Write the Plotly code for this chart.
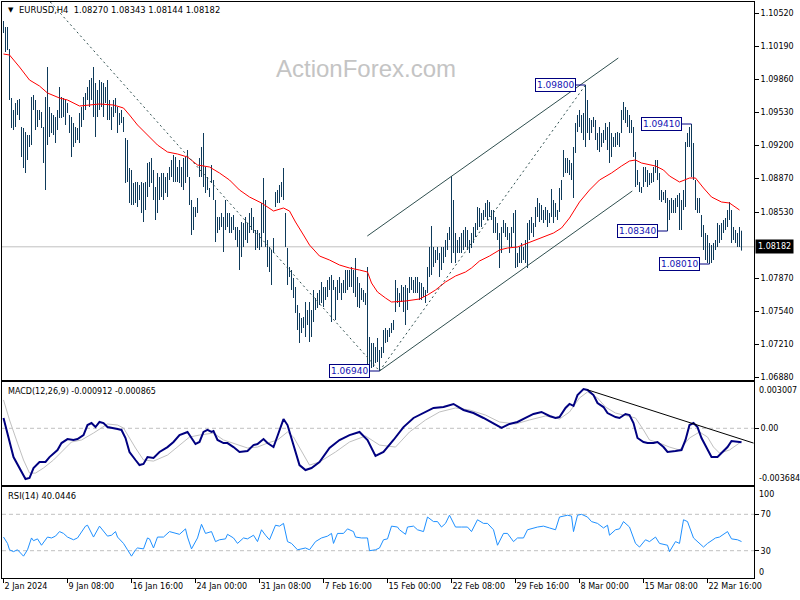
import plotly.graph_objects as go

# ---------------- DATA ----------------
highs = [
1.1044,1.1038,1.1038,1.1016,1.0967,1.0955,1.0962,1.0965,1.0966,1.0938,
1.0937,1.0933,1.0930,1.0930,1.0968,1.0970,1.0965,1.0955,1.0955,1.0953,
1.0938,1.0968,1.0998,1.0958,1.0952,1.0950,1.0948,1.0955,1.0978,1.0968,
1.0967,1.0965,1.0962,1.0950,1.0948,1.0942,1.0938,1.0937,1.0952,1.0958,
1.0968,1.0972,1.0978,1.0985,1.0987,1.0998,1.0982,1.0975,1.0985,1.0983,
1.0982,1.0978,1.0985,1.0965,1.0958,1.0965,1.0967,1.0958,1.0952,1.0955,
1.0948,1.0927,1.0925,1.0897,1.0895,1.0882,1.0883,1.0883,1.0880,1.0883,
1.0882,1.0883,1.0902,1.0903,1.0907,1.0895,1.0878,1.0892,1.0888,1.0892,
1.0892,1.0888,1.0892,1.0898,1.0905,1.0910,1.0908,1.0898,1.0905,1.0898,
1.0907,1.0908,1.0915,1.0888,1.0865,1.0858,1.0858,1.0867,1.0907,1.0918,
1.0932,1.0898,1.0888,1.0877,1.0900,1.0885,1.0865,1.0848,1.0848,1.0852,
1.0848,1.0865,1.0852,1.0852,1.0848,1.0850,1.0838,1.0838,1.0835,1.0843,
1.0842,1.0848,1.0842,1.0852,1.0857,1.0848,1.0835,1.0835,1.0832,1.0862,
1.0887,1.0865,1.0825,1.0818,1.0815,1.0827,1.0873,1.0875,1.0880,1.0883,
1.0897,1.0852,1.0817,1.0798,1.0795,1.0787,1.0778,1.0760,1.0752,1.0747,
1.0748,1.0763,1.0755,1.0763,1.0755,1.0775,1.0767,1.0772,1.0775,1.0783,
1.0778,1.0778,1.0785,1.0788,1.0790,1.0785,1.0778,1.0785,1.0788,1.0782,
1.0785,1.0795,1.0795,1.0795,1.0798,1.0795,1.0807,1.0788,1.0782,1.0777,
1.0775,1.0772,1.0798,1.0728,1.0722,1.0722,1.0718,1.0727,1.0715,1.0718,
1.0735,1.0737,1.0735,1.0737,1.0742,1.0745,1.0785,1.0777,1.0772,1.0780,
1.0778,1.0780,1.0777,1.0788,1.0788,1.0785,1.0788,1.0788,1.0783,1.0782,
1.0778,1.0775,1.0798,1.0818,1.0839,1.0818,1.0815,1.0818,1.0812,1.0818,
1.0818,1.0825,1.0832,1.0838,1.0889,1.0865,1.0832,1.0825,1.0828,1.0832,
1.0835,1.0838,1.0835,1.0825,1.0832,1.0838,1.0842,1.0858,1.0857,1.0852,
1.0855,1.0862,1.0865,1.0863,1.0855,1.0855,1.0848,1.0842,1.0832,1.0838,
1.0845,1.0842,1.0838,1.0832,1.0838,1.0852,1.0855,1.0812,1.0818,1.0822,
1.0818,1.0825,1.0842,1.0845,1.0848,1.0842,1.0858,1.0867,1.0862,1.0860,
1.0855,1.0858,1.0855,1.0852,1.0876,1.0865,1.0862,1.0855,1.0877,1.0885,
1.0915,1.0907,1.0907,1.0905,1.0902,1.0918,1.0942,1.0950,1.0955,1.0950,
1.0952,1.0980,1.0965,1.0947,1.0945,1.0948,1.0945,1.0932,1.0938,1.0932,
1.0935,1.0942,1.0938,1.0943,1.0932,1.0928,1.0932,1.0933,1.0932,1.0955,
1.0963,1.0958,1.0955,1.0950,1.0945,1.0938,1.0913,1.0895,1.0883,1.0878,
1.0898,1.0898,1.0895,1.0892,1.0892,1.0898,1.0905,1.0905,1.0892,1.0875,
1.0873,1.0875,1.0867,1.0865,1.0867,1.0865,1.0867,1.0870,1.0872,1.0865,
1.0875,1.0923,1.0932,1.0938,1.0941,1.0922,1.0885,1.0867,1.0867,1.0850,
1.0840,1.0832,1.0830,1.0822,1.0820,1.0822,1.0825,1.0842,1.0840,1.0842,
1.0845,1.0847,1.0855,1.0863,1.0855,1.0838,1.0835,1.0832,1.0838,1.08343,
]
lows = [
1.1032,1.1013,1.1015,1.0965,1.0937,1.0935,1.0938,1.0950,1.0945,1.0908,
1.0897,1.0892,1.0905,1.0918,1.0920,1.0955,1.0935,1.0938,1.0945,1.0937,
1.0902,1.0875,1.0920,1.0928,1.0932,1.0930,1.0922,1.0935,1.0947,1.0947,
1.0948,1.0940,1.0952,1.0932,1.0908,1.0918,1.0922,1.0925,1.0922,1.0938,
1.0945,1.0955,1.0965,1.0958,1.0965,1.0948,1.0928,1.0948,1.0955,1.0958,
1.0948,1.0962,1.0945,1.0945,1.0935,1.0948,1.0952,1.0932,1.0940,1.0942,
1.0933,1.0882,1.0883,1.0862,1.0860,1.0860,1.0862,1.0858,1.0865,1.0852,
1.0843,1.0855,1.0868,1.0878,1.0882,1.0865,1.0845,1.0852,1.0865,1.0868,
1.0865,1.0872,1.0868,1.0885,1.0888,1.0883,1.0883,1.0883,1.0882,1.0878,
1.0875,1.0882,1.0888,1.0860,1.0830,1.0835,1.0848,1.0852,1.0888,1.0888,
1.0878,1.0872,1.0875,1.0868,1.0882,1.0865,1.0823,1.0832,1.0835,1.0838,
1.0813,1.0835,1.0838,1.0832,1.0832,1.0835,1.0825,1.0818,1.0795,1.0808,
1.0818,1.0825,1.0822,1.0832,1.0835,1.0832,1.0815,1.0817,1.0815,1.0818,
1.0832,1.0818,1.0798,1.0793,1.0780,1.0812,1.0858,1.0862,1.0862,1.0868,
1.0865,1.0818,1.0780,1.0788,1.0775,1.0767,1.0752,1.0735,1.0722,1.0732,
1.0737,1.0728,1.0740,1.0723,1.0728,1.0743,1.0755,1.0757,1.0760,1.0762,
1.0758,1.0765,1.0768,1.0775,1.0743,1.0775,1.0745,1.0765,1.0772,1.0765,
1.0772,1.0772,1.0775,1.0778,1.0778,1.0772,1.0768,1.0758,1.0757,1.0765,
1.0763,1.0760,1.0700,1.0700,1.0697,1.0698,1.0702,1.0703,1.0694,1.0707,
1.0712,1.0722,1.0723,1.0728,1.0732,1.0735,1.0753,1.0762,1.0758,1.0763,
1.0753,1.0740,1.0755,1.0772,1.0775,1.0772,1.0772,1.0772,1.0765,1.0765,
1.0768,1.0762,1.0772,1.0788,1.0790,1.0798,1.0802,1.0805,1.0788,1.0795,
1.0802,1.0808,1.0815,1.0825,1.0802,1.0812,1.0802,1.0812,1.0812,1.0812,
1.0815,1.0818,1.0815,1.0812,1.0817,1.0822,1.0828,1.0835,1.0838,1.0838,
1.0845,1.0848,1.0845,1.0848,1.0845,1.0832,1.0832,1.0825,1.0797,1.0812,
1.0832,1.0828,1.0825,1.0812,1.0818,1.0832,1.0797,1.0798,1.0802,1.0802,
1.0805,1.0802,1.0797,1.0825,1.0832,1.0828,1.0838,1.0848,1.0843,1.0845,
1.0842,1.0845,1.0838,1.0842,1.0848,1.0842,1.0848,1.0845,1.0853,1.0865,
1.0888,1.0892,1.0892,1.0890,1.0885,1.0867,1.0912,1.0933,1.0938,1.0932,
1.0925,1.0918,1.0932,1.0925,1.0932,1.0938,1.0925,1.0915,1.0913,1.0918,
1.0922,1.0925,1.0915,1.0902,1.0908,1.0918,1.0918,1.0920,1.0918,1.0932,
1.0945,1.0942,1.0938,1.0932,1.0932,1.0908,1.0878,1.0880,1.0873,1.0872,
1.0878,1.0883,1.0878,1.0880,1.0882,1.0883,1.0892,1.0885,1.0865,1.0863,
1.0865,1.0862,1.0834,1.0845,1.0852,1.0852,1.0852,1.0858,1.0835,1.0835,
1.0855,1.0858,1.0918,1.0918,1.0888,1.0885,1.0855,1.0852,1.0852,1.0828,
1.0815,1.0805,1.0802,1.0801,1.0802,1.0805,1.0815,1.0818,1.0822,1.0825,
1.0832,1.0835,1.0838,1.0845,1.0822,1.0825,1.0822,1.0818,1.0818,1.08144,
]
last_close = 1.08182

ma_idx = [0,3,8,13,18,22,28,32,38,42,48,55,60,63,67,72,77,82,87,92,97,103,108,113,118,123,129,
          135,140,143,146,150,153,158,163,168,173,178,182,184,187,191,194,201,208,212,216,221,226,
          231,234,238,243,248,252,257,261,266,271,275,279,283,288,293,298,304,309,313,316,319,326,
          330,333,338,343,346,350,354,359,363,368]
ma_val = [1.1011,1.1010,1.0998,1.0985,1.0979,1.0972,1.0967,1.0965,1.0959,1.0960,1.0961,1.0960,1.0957,
          1.0950,1.0940,1.0930,1.0920,1.0913,1.0911,1.0908,1.0900,1.0898,1.0892,1.0885,1.0875,1.0868,
          1.0862,1.0854,1.0857,1.0854,1.0843,1.0830,1.0820,1.0809,1.0805,1.0800,1.0797,1.0795,1.0793,
          1.0782,1.0773,1.0767,1.0763,1.0764,1.0766,1.0770,1.0775,1.0783,1.0789,1.0793,1.0797,1.0804,
          1.0809,1.0815,1.0817,1.0818,1.0821,1.0825,1.0829,1.0832,1.0837,1.0847,1.0863,1.0875,1.0885,
          1.0892,1.0899,1.0904,1.0905,1.0902,1.0899,1.0895,1.0889,1.0883,1.0887,1.0887,1.0877,1.0868,
          1.0863,1.0862,1.0855]

macd_idx = [0,5,11,13,15,18,21,23,27,29,32,35,37,40,42,44,46,48,50,52,57,59,61,63,66,68,70,72,75,78,
            82,85,88,91,92,94,96,98,100,102,104,105,107,110,112,115,118,122,125,127,130,132,135,137,
            140,142,144,146,148,151,154,158,163,168,173,178,182,186,190,195,200,205,210,215,220,225,
            230,235,240,245,249,253,257,261,265,269,273,276,278,281,283,285,287,290,292,295,297,300,
            302,306,308,311,313,315,317,320,322,325,327,330,332,336,339,341,343,345,347,349,352,354,
            357,359,362,364,367,369]
macd_val = [0.00067,-0.00187,-0.00330,-0.00323,-0.00258,-0.00219,-0.00219,-0.00187,-0.00141,-0.00096,
            -0.00070,-0.00076,-0.00070,-0.00044,0.00021,0.00034,0.00008,0.00041,0.00034,0.00008,
            -0.00005,-0.00011,-0.00063,-0.00154,-0.00206,-0.00239,-0.00232,-0.00187,-0.00193,-0.00154,
            -0.00122,-0.00089,-0.00044,-0.00031,-0.00024,-0.00063,-0.00102,-0.00089,-0.00024,-0.00011,
            -0.00024,-0.00018,-0.00076,-0.00096,-0.00096,-0.00122,-0.00154,-0.00148,-0.00109,-0.00102,
            -0.00070,-0.00096,-0.00122,-0.00050,0.00060,0.00021,-0.00063,-0.00154,-0.00239,-0.00271,
            -0.00258,-0.00219,-0.00128,-0.00076,-0.00044,-0.00024,-0.00076,-0.00180,-0.00154,-0.00076,
            0.00008,0.00067,0.00099,0.00132,0.00138,0.00158,0.00119,0.00099,0.00067,0.00028,0.00002,
            0.00028,0.00041,0.00067,0.00093,0.00106,0.00080,0.00067,0.00073,0.00132,0.00158,0.00145,
            0.00216,0.00255,0.00249,0.00216,0.00164,0.00138,0.00099,0.00073,0.00067,0.00093,0.00086,
            0.00034,-0.00063,-0.00089,-0.00096,-0.00096,-0.00089,-0.00122,-0.00154,-0.00148,-0.00141,
            -0.00076,0.00021,0.00034,0.00008,-0.00063,-0.00141,-0.00187,-0.00187,-0.00161,-0.00122,
            -0.00083,-0.00089,-0.000912]

sig_idx = [0,3,7,10,13,16,20,25,30,34,39,45,52,57,60,62,66,70,75,82,88,93,98,105,110,115,122,127,132,
           137,142,145,148,153,158,166,173,181,188,196,203,211,218,226,233,241,248,256,263,271,276,278,
           283,288,292,297,301,306,312,316,320,323,328,333,338,343,348,352,355,358,363,369]
sig_val = [0.00184,0.00054,-0.00096,-0.00206,-0.00291,-0.00291,-0.00258,-0.00206,-0.00141,-0.00089,
           -0.00076,-0.00031,0.00028,0.00021,0.00002,-0.00044,-0.00128,-0.00206,-0.00213,-0.00174,
           -0.00109,-0.00057,-0.00044,-0.00031,-0.00076,-0.00096,-0.00128,-0.00122,-0.00096,-0.00076,
           -0.00024,-0.00057,-0.00122,-0.00239,-0.00219,-0.00154,-0.00089,-0.00050,-0.00109,-0.00122,
           -0.00024,0.00054,0.00106,0.00132,0.00119,0.00086,0.00041,0.00028,0.00054,0.00080,0.00067,
           0.00060,0.00106,0.00197,0.00236,0.00197,0.00138,0.00099,0.00080,0.00067,-0.00011,-0.00076,
           -0.00096,-0.00122,-0.00141,-0.00063,-0.00024,-0.00057,-0.00122,-0.00161,-0.00141,-0.000865]

rsi_idx = [0,2,3,5,7,10,12,14,15,17,19,22,24,26,28,30,32,35,37,39,41,42,44,45,48,50,52,54,56,57,60,62,
           64,66,67,70,72,73,75,77,80,83,86,88,91,92,94,97,99,101,104,106,108,111,112,115,117,120,122,
           125,127,129,131,133,136,138,140,142,144,147,151,153,156,159,162,164,165,167,170,172,175,176,
           179,182,183,186,188,190,192,194,197,198,201,202,205,207,210,212,215,217,219,221,223,226,229,
           232,234,237,240,242,245,247,250,252,255,257,260,262,267,270,273,276,278,282,284,285,287,289,
           292,294,297,300,302,303,306,308,310,313,316,318,321,323,326,328,332,333,336,338,340,342,345,
           347,350,352,356,358,361,362,364,367,369]
rsi_val = [45,38,31,29,31,24,31,44,41,43,36,45,44,46,51,49,45,42,44,51,57,58,49,45,57,51,46,47,51,45,38,31,
           24,31,33,32,44,43,33,45,45,51,49,48,54,45,32,44,59,49,51,40,42,43,48,44,38,44,43,
           47,40,53,47,42,58,57,60,40,38,31,33,31,40,44,46,49,38,49,49,54,51,45,
           44,44,30,31,33,42,43,57,56,53,48,56,57,53,51,67,62,62,56,60,69,56,56,
           56,51,64,60,60,53,36,49,49,40,44,44,53,56,57,55,53,67,69,68,51,69,70,
           67,62,60,55,58,47,53,54,62,56,38,34,42,40,45,38,36,29,40,38,64,62,44,
           40,34,38,44,45,49,51,43,42,40.0446]

tick_idx = [0, 32, 64, 96, 128, 160, 192, 224, 256, 288, 320, 352]
tick_labels = ["2 Jan 2024", "9 Jan 08:00", "16 Jan 16:00", "24 Jan 00:00", "31 Jan 08:00",
               "7 Feb 16:00", "15 Feb 00:00", "22 Feb 08:00", "29 Feb 16:00", "8 Mar 00:00",
               "15 Mar 08:00", "22 Mar 16:00"]
price_ticks = [1.1052, 1.1019, 1.0986, 1.0953, 1.0920, 1.0887, 1.0853, 1.0787, 1.0754, 1.0721, 1.0688]

label_idx = [291, 344, 332, 353, 188]
label_price = [1.0980, 1.0941, 1.0834, 1.0801, 1.0694]

# trendlines: (idx0, price0, idx1, price1)
dashed_lines = [(23.4, 1.1063, 188, 1.0694), (188, 1.0694, 291, 1.0980)]
solid_lines = [(188, 1.0694, 314.4, 1.0874), (181.9, 1.0829, 307.4, 1.1007)]
macd_trend = (292, 0.00250, 375, -0.00096)

header = "EURUSD,H4  1.08270 1.08343 1.08144 1.08182"
macd_title = "MACD(12,26,9) -0.000912 -0.000865"
rsi_title = "RSI(14) 40.0446"

# ---------------- FIGURE ----------------
FONT = "DejaVu Sans"
BAR_C = "#0e3a5a"

bx, by = [], []
for i, (h, l) in enumerate(zip(highs, lows)):
    bx += [i, i, None]
    by += [l, h, None]

fig = go.Figure()
fig.add_trace(go.Scatter(x=bx, y=by, mode="lines", line=dict(color=BAR_C, width=1),
                         xaxis="x", yaxis="y", hoverinfo="skip"))
fig.add_trace(go.Scatter(x=ma_idx, y=ma_val, mode="lines", line=dict(color="#ff0000", width=1),
                         xaxis="x", yaxis="y"))
for (a0, p0, a1, p1) in dashed_lines:
    fig.add_trace(go.Scatter(x=[a0, a1], y=[p0, p1], mode="lines",
                             line=dict(color="#2f4f4f", width=1, dash="2px,3px"),
                             xaxis="x", yaxis="y"))
for (a0, p0, a1, p1) in solid_lines:
    fig.add_trace(go.Scatter(x=[a0, a1], y=[p0, p1], mode="lines",
                             line=dict(color="#2f4f4f", width=1), xaxis="x", yaxis="y"))

fig.add_trace(go.Scatter(x=sig_idx, y=sig_val, mode="lines", line=dict(color="#c0c0c0", width=1),
                         xaxis="x2", yaxis="y2"))
fig.add_trace(go.Scatter(x=macd_idx, y=macd_val, mode="lines", line=dict(color="#000080", width=2),
                         xaxis="x2", yaxis="y2"))
fig.add_trace(go.Scatter(x=[macd_trend[0], macd_trend[2]], y=[macd_trend[1], macd_trend[3]],
                         mode="lines", line=dict(color="#000000", width=1), xaxis="x2", yaxis="y2"))
fig.add_trace(go.Scatter(x=rsi_idx, y=rsi_val, mode="lines", line=dict(color="#1e90ff", width=1),
                         xaxis="x3", yaxis="y3"))

XR = [-0.75, 375.25]
H = 576.0
def yp(py):
    return (578 - py) / H
def xp(px):
    return (px - 2) / 752.0

axis_common = dict(showgrid=False, zeroline=False, showline=True, mirror=True,
                   linecolor="#000000", linewidth=1)
yfont = dict(family=FONT, size=8, color="#000000")

fig.update_layout(
    width=800, height=600, template="none",
    margin=dict(l=2, r=46, t=2, b=22),
    paper_bgcolor="white", plot_bgcolor="white", showlegend=False,
    xaxis=dict(domain=[0, 1], range=XR, anchor="y", showticklabels=False, ticks="", **axis_common),
    xaxis2=dict(domain=[0, 1], range=XR, anchor="y2", matches="x", showticklabels=False, ticks="",
                **axis_common),
    xaxis3=dict(domain=[0, 1], range=XR, anchor="y3", matches="x", tickvals=tick_idx,
                ticktext=tick_labels, ticks="outside", ticklen=4, tickcolor="#000000",
                ticklabelposition="outside right", tickangle=0, tickfont=yfont, **axis_common),
    yaxis=dict(domain=[yp(380), 1], range=[1.0685, 1.1063], side="right", anchor="x",
               tickvals=price_ticks, ticktext=[f"{v:.5f}" for v in price_ticks],
               ticks="outside", ticklen=4, tickcolor="#000000", tickfont=yfont, **axis_common),
    yaxis2=dict(domain=[yp(485), yp(382)], range=[-0.003684, 0.003007], side="right", anchor="x2",
                tickvals=[0], ticktext=["0.00"], ticks="outside", ticklen=4, tickcolor="#000000",
                tickfont=yfont, **axis_common),
    yaxis3=dict(domain=[0, yp(487)], range=[0, 100], side="right", anchor="x3",
                tickvals=[30, 70], ticktext=["30", "70"], ticks="outside", ticklen=4,
                tickcolor="#000000", tickfont=yfont, **axis_common),
)

shapes = []
shapes.append(dict(type="line", xref="x domain", yref="y", x0=0, x1=1, y0=last_close, y1=last_close,
                   line=dict(color="#c0c0c0", width=1), layer="below"))
shapes.append(dict(type="line", xref="x2 domain", yref="y2", x0=0, x1=1, y0=0, y1=0,
                   line=dict(color="#c0c0c0", width=1, dash="4px,3px"), layer="below"))
for lv in (30, 70):
    shapes.append(dict(type="line", xref="x3 domain", yref="y3", x0=0, x1=1, y0=lv, y1=lv,
                       line=dict(color="#c0c0c0", width=1, dash="4px,3px"), layer="below"))
for ix, pr in zip(label_idx, label_price):
    shapes.append(dict(type="line", xref="x", yref="y", x0=ix - 5, x1=ix, y0=pr, y1=pr,
                       line=dict(color="#000080", width=1)))
fig.update_layout(shapes=shapes)

ann = []
ann.append(dict(xref="paper", yref="paper", x=xp(6), y=yp(10), xanchor="left", yanchor="middle",
                text="▼", showarrow=False, font=dict(family=FONT, size=7, color="#000000")))
ann.append(dict(xref="paper", yref="paper", x=xp(17), y=yp(10), xanchor="left", yanchor="middle",
                text=header.replace("  ", "&nbsp;&nbsp;"), showarrow=False,
                font=dict(family=FONT, size=8.4, color="#000000")))
ann.append(dict(xref="paper", yref="paper", x=xp(366), y=yp(68), xanchor="center", yanchor="middle",
                text="ActionForex.com", showarrow=False,
                font=dict(family="Liberation Sans", size=24, color="#c4c4c4")))
ann.append(dict(xref="paper", yref="paper", x=xp(6), y=yp(391), xanchor="left", yanchor="middle",
                text=macd_title, showarrow=False, font=dict(family=FONT, size=8, color="#000000")))
ann.append(dict(xref="paper", yref="paper", x=xp(6), y=yp(496), xanchor="left", yanchor="middle",
                text=rsi_title, showarrow=False, font=dict(family=FONT, size=8.4, color="#000000")))
for txt, py in (("0.003007", 390), ("-0.003684", 478), ("100", 494), ("0", 572)):
    ann.append(dict(xref="paper", yref="paper", x=xp(757), y=yp(py), xanchor="left",
                    yanchor="middle", text=txt, showarrow=False, font=yfont))
ann.append(dict(xref="paper", yref="y", x=1.0, y=last_close, xanchor="left", yanchor="middle",
                xshift=1, text=f"{last_close:.5f}", showarrow=False, bgcolor="#000000",
                borderpad=2, font=dict(family=FONT, size=8, color="#ffffff")))
for ix, pr in zip(label_idx, label_price):
    ann.append(dict(xref="x", yref="y", x=ix - 5, y=pr, xanchor="right", yanchor="middle",
                    text=f"{pr:.5f}", showarrow=False, bgcolor="#ffffff",
                    bordercolor="#000080", borderwidth=1, borderpad=1,
                    font=dict(family=FONT, size=9, color="#1414b4")))
fig.update_layout(annotations=ann)

fig.write_html("out.html", config={"displayModeBar": False},
               post_script="document.body.style.margin='0';document.body.style.overflow='hidden';")
